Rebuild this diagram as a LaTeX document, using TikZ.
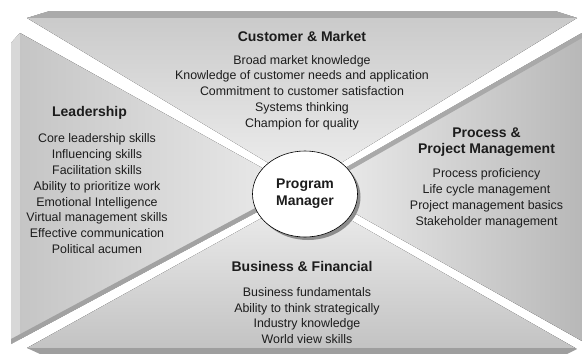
\documentclass[tikz,border=0pt]{standalone}
\usepackage{fontspec}
\setmainfont{Liberation Sans}
\usetikzlibrary{shapes.geometric,shadows}
\definecolor{topface1}{HTML}{C9C9C9}
\definecolor{topface2}{HTML}{EFEFEF}
\definecolor{toprim}{HTML}{AAAAAA}
\definecolor{leftface1}{HTML}{C4C4C4}
\definecolor{leftface2}{HTML}{ECECEC}
\definecolor{leftrim}{HTML}{D8D8D8}
\definecolor{leftedge}{HTML}{A2A2A2}
\definecolor{botface1}{HTML}{EFEFEF}
\definecolor{botface2}{HTML}{C3C3C3}
\definecolor{botrim}{HTML}{9E9E9E}
\definecolor{rightface1}{HTML}{EFEFEF}
\definecolor{rightface2}{HTML}{B8B8B8}
\definecolor{rightedge}{HTML}{A9A9A9}
\definecolor{ink}{HTML}{1C1C1C}
\begin{document}
\begin{tikzpicture}[x=1pt,y=-1pt,
  body/.style={align=center,inner sep=0pt,text=ink,
    font=\fontsize{12.4}{15.85}\selectfont},
  head/.style={align=center,inner sep=0pt,text=ink,
    font=\bfseries\fontsize{14}{16}\selectfont},
  hub/.style={ellipse,draw=black,line width=0.6pt,fill=white,
    minimum width=105pt,minimum height=86pt,inner sep=0pt,align=center,
    text=ink,font=\bfseries\fontsize{14}{16.7}\selectfont,
    drop shadow={shadow xshift=3pt,shadow yshift=-3pt,fill=black!45,opacity=1}}]
\useasboundingbox (0,0) rectangle (582,354);

% upper panel: face and bevelled top rim
\begin{scope}
  \clip (50,11) -- (555,11) -- (577,18) -- (305,185) -- (27,18) -- cycle;
  \fill[top color=topface1,bottom color=topface2] (0,11) rectangle (582,185);
  \fill[toprim] (0,0) rectangle (582,18);
\end{scope}

% left panel: face, light outer rim, dark lower edge
\begin{scope}
  \clip (11,43) -- (20,33) -- (300,189) -- (11,344) -- cycle;
  \fill[left color=leftface1,right color=leftface2] (11,33) rectangle (300,344);
  \fill[leftrim] (0,0) rectangle (20,354);
  \fill[leftedge] (11,339) -- (300,184) -- (300,189) -- (11,344) -- cycle;
\end{scope}

% right panel: face and dark upper edge
\begin{scope}
  \clip (310,188) -- (582,33) -- (582,341) -- cycle;
  \fill[left color=rightface1,right color=rightface2] (310,33) rectangle (582,341);
  \fill[rightedge] (310,188) -- (582,33) -- (582,38) -- (310,193) -- cycle;
\end{scope}

% lower panel: face and bevelled bottom rim
\begin{scope}
  \clip (27,348) -- (305,194) -- (577,349) -- (567,354) -- (40,354) -- cycle;
  \fill[top color=botface1,bottom color=botface2] (27,194) rectangle (577,348);
  \fill[botrim] (0,347.5) rectangle (582,354);
\end{scope}

% centre
\node[hub] (pm) at (305,194) {Program\\Manager};

% upper panel text
\node[head] (cmhead) at (302,36) {Customer \& Market};
\node[body] (cmbody) at (302,92.6) {Broad market knowledge\\
  Knowledge of customer needs and application\\
  Commitment to customer satisfaction\\
  Systems thinking\\
  Champion for quality};

% left panel text
\node[head] (ldhead) at (89.5,113) {Leadership};
\node[body] (ldbody) at (97,193.7) {Core leadership skills\\
  Influencing skills\\
  Facilitation skills\\
  Ability to prioritize work\\
  Emotional Intelligence\\
  Virtual management skills\\
  Effective communication\\
  Political acumen};

% right panel text
\node[head] (pphead) at (486.5,142) {Process \&\\Project Management};
\node[body] (ppbody) at (486.5,198.2) {Process proficiency\\
  Life cycle management\\
  Project management basics\\
  Stakeholder management};

% lower panel text
\node[head] (bfhead) at (302,266.3) {Business \& Financial};
\node[body] (bfbody) at (307,315.5) {Business fundamentals\\
  Ability to think strategically\\
  Industry knowledge\\
  World view skills};
\end{tikzpicture}
\end{document}
